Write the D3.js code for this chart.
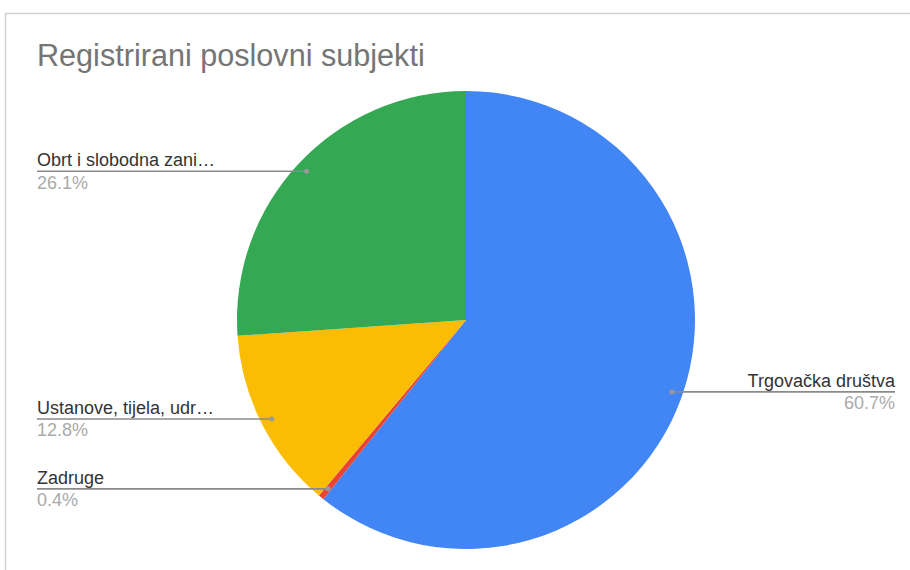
<!DOCTYPE html>
<html><head><meta charset="utf-8">
<script src="https://cdn.jsdelivr.net/npm/d3@7"></script>
<style>body{margin:0;background:#fff;}svg{display:block;}</style>
</head><body>
<svg id="c" width="910" height="570"></svg>
<script>
const categories = ["Trgovačka društva", "Zadruge", "Ustanove, tijela, udr…", "Obrt i slobodna zani…"];
const values = [60.7, 0.4, 12.8, 26.1];
const colors = ["#4285F4", "#EA4335", "#FBBC04", "#34A853"];
const title = "Registrirani poslovni subjekti";

const svg = d3.select("#c");
const W = 910, H = 570;
const cx = 466, cy = 320, R = 229;
const FONT = "'Liberation Sans', Arial, sans-serif";

// frame
svg.append("path").attr("d", `M5.5,${H} V13.5 H${W}`).attr("fill","none").attr("stroke","#d0d0d0").attr("stroke-width",1.5);

svg.append("text").attr("x",37).attr("y",66).attr("font-family",FONT).attr("font-size",30.6)
  .attr("fill","#757575").text(title);

const data = categories.map((c,i)=>({name:c, value:values[i], color:colors[i]}));
const pie = d3.pie().value(d=>d.value).sort(null);
const arcs = pie(data);
const arc = d3.arc().innerRadius(0).outerRadius(R);
const g = svg.append("g").attr("transform",`translate(${cx},${cy})`);
g.selectAll("path").data(arcs).join("path").attr("d",arc).attr("fill",d=>d.data.color);

const fmt = v => v.toFixed(1) + "%";
const labelArc = d3.arc().innerRadius(R*0.952).outerRadius(R*0.952);
arcs.forEach(a=>{
  const [px,py] = labelArc.centroid(a);
  const x = cx+px, y = cy+py;
  const right = px > 0;
  const x2 = right ? 895 : 37;
  svg.append("line").attr("x1",x).attr("y1",y).attr("x2",x2).attr("y2",y)
    .attr("stroke","#8a8a8a").attr("stroke-width",1.6);
  svg.append("circle").attr("cx",x).attr("cy",y).attr("r",2.5).attr("fill","#999");
  const anchor = right ? "end" : "start";
  svg.append("text").attr("x",x2).attr("y",y-5).attr("text-anchor",anchor)
    .attr("font-family",FONT).attr("font-size",18).attr("fill","#333").text(a.data.name);
  svg.append("text").attr("x",x2).attr("y",y+17.5).attr("text-anchor",anchor)
    .attr("font-family",FONT).attr("font-size",18).attr("fill","#aaa").text(fmt(a.data.value));
});
</script>
</body></html>
